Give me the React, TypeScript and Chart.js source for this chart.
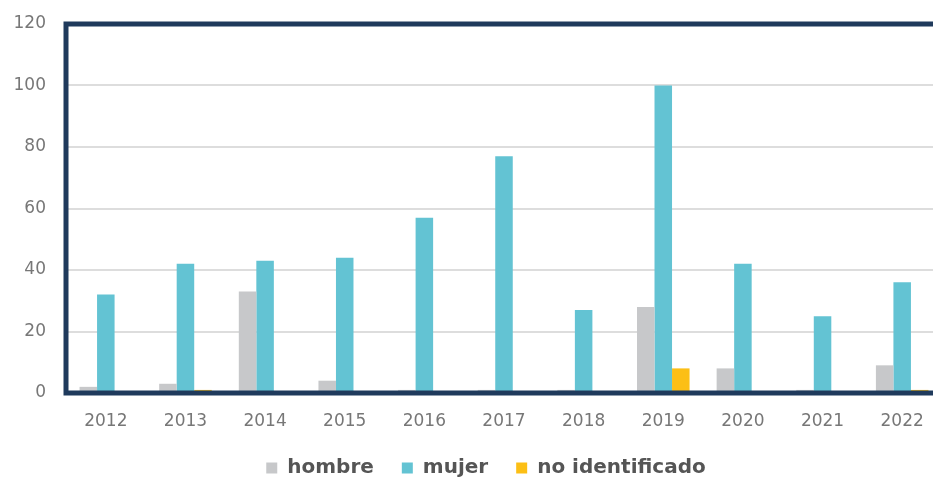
import React, { useEffect, useRef } from "react";
import { Chart, registerables } from "chart.js";

Chart.register(...registerables);

const years = ["2012", "2013", "2014", "2015", "2016", "2017", "2018", "2019", "2020", "2021", "2022"];
const hombre = [2, 3, 33, 4, 1, 1, 1, 28, 8, 1, 9];
const mujer = [32, 42, 43, 44, 57, 77, 27, 100, 42, 25, 36];
const noIdentificado = [0, 1, 0, 0, 0, 0, 0, 8, 0, 0, 1];
const yTicks = [0, 20, 40, 60, 80, 100, 120];

const NAVY = "#1f3a5c";
const FONT = "'DejaVu Sans', sans-serif";

const frame = {
  id: "frame",
  afterDatasetsDraw(chart: any) {
    const { ctx, chartArea } = chart;
    const { left, right, top, bottom } = chartArea;
    ctx.save();
    ctx.strokeStyle = NAVY;
    ctx.lineWidth = 5;
    ctx.lineCap = "square";
    ctx.beginPath();
    ctx.moveTo(right + 10, top);
    ctx.lineTo(left, top);
    ctx.lineTo(left, bottom);
    ctx.lineTo(right + 10, bottom);
    ctx.stroke();
    ctx.restore();
  },
};

export default function App() {
  const ref = useRef<HTMLCanvasElement>(null);
  useEffect(() => {
    const chart = new Chart(ref.current!, {
      type: "bar",
      data: {
        labels: years,
        datasets: [
          { label: "hombre", data: hombre, backgroundColor: "#c7c8ca" },
          { label: "mujer", data: mujer, backgroundColor: "#63c3d3" },
          { label: "no identificado", data: noIdentificado, backgroundColor: "#fcbf15" },
        ],
      },
      options: {
        responsive: false,
        animation: false,
        layout: { padding: { top: 24, left: 0, right: 0, bottom: -9 } },
        datasets: { bar: { barPercentage: 1, categoryPercentage: 0.66 } },
        plugins: {
          tooltip: { enabled: false },
          legend: {
            position: "bottom",
            labels: {
              boxWidth: 11,
              boxHeight: 11,
              padding: 28,
              color: "#555555",
              font: { family: FONT, size: 20, weight: "bold" },
            },
          },
        },
        scales: {
          x: {
            grid: { display: false, drawTicks: false },
            border: { display: false },
            ticks: { color: "#777777", padding: 18, font: { family: FONT, size: 17 } },
            afterFit: (s: any) => { s.height = 37; },
          },
          y: {
            min: 0,
            max: 120,
            afterBuildTicks: (s: any) => { s.ticks = yTicks.map((v) => ({ value: v })); },
            grid: { color: "#dddddd", lineWidth: 2, drawTicks: false },
            border: { display: false },
            ticks: { color: "#777777", padding: 20, font: { family: FONT, size: 17 } },
            afterFit: (s: any) => { s.width = 66; s.paddingTop = 0; s.paddingBottom = 0; },
          },
          yR: {
            position: "right",
            display: true,
            grid: { display: false, drawTicks: false },
            border: { display: false },
            ticks: { display: false },
            afterFit: (s: any) => { s.width = 30; s.paddingTop = 0; s.paddingBottom = 0; },
          },
        },
      },
      plugins: [frame],
    } as any);
    return () => chart.destroy();
  }, []);
  return (
    <div style={{ position: "fixed", left: 0, top: 0, width: 933, height: 479, overflow: "hidden", background: "#fff" }}>
      <canvas ref={ref} width={972} height={479} style={{ display: "block", width: 972, height: 479 }} />
    </div>
  );
}
